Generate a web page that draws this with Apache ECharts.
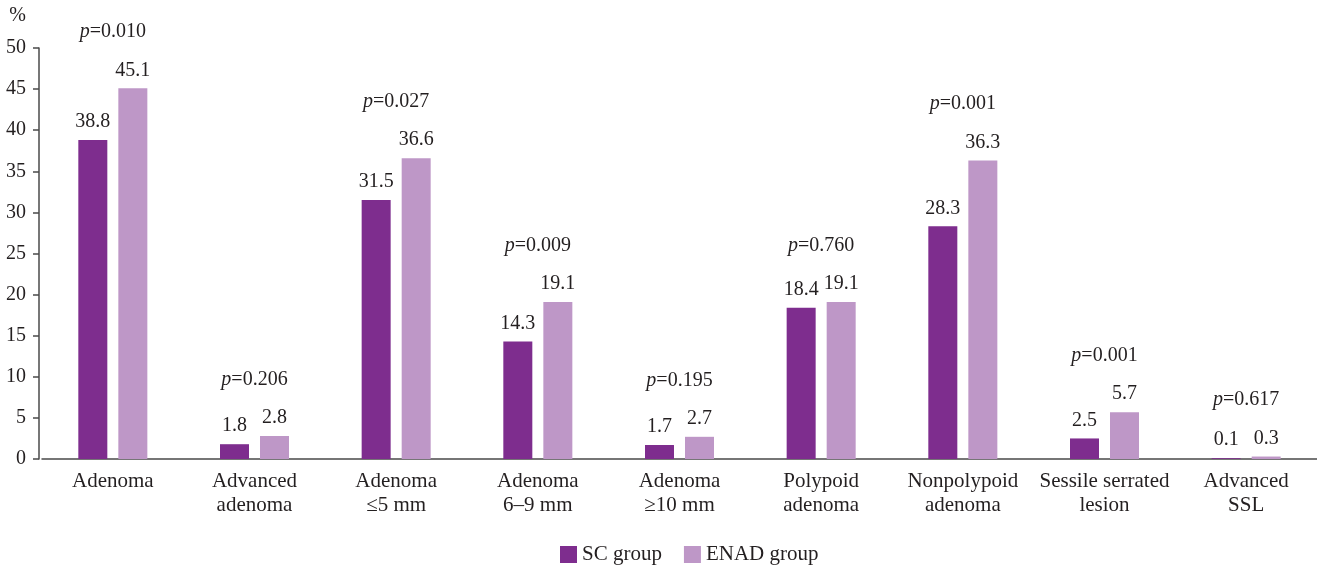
<!DOCTYPE html>
<html><head><meta charset="utf-8">
<script src="https://cdn.jsdelivr.net/npm/echarts@6/dist/echarts.min.js"></script>
<style>html,body{margin:0;padding:0;background:#fff}#c{width:1317px;height:570px}</style>
</head><body><div id="c"></div>
<script>
var categories = ['Adenoma', 'Advanced\nadenoma', 'Adenoma\n≤5 mm', 'Adenoma\n6–9 mm', 'Adenoma\n≥10 mm', 'Polypoid\nadenoma', 'Nonpolypoid\nadenoma', 'Sessile serrated\nlesion', 'Advanced\nSSL'];
var scGroup = [38.8, 1.8, 31.5, 14.3, 1.7, 18.4, 28.3, 2.5, 0.1];
var enadGroup = [45.1, 2.8, 36.6, 19.1, 2.7, 19.1, 36.3, 5.7, 0.3];
var pValues = ['0.010', '0.206', '0.027', '0.009', '0.195', '0.760', '0.001', '0.001', '0.617'];
var yTicks = [0, 5, 10, 15, 20, 25, 30, 35, 40, 45, 50];

var FONT = '"Liberation Serif", "DejaVu Serif", serif';
var TXT = '#231F20';
var pAnchor = scGroup.map(function (v, i) { return Math.max(v, enadGroup[i]); });

var chart = echarts.init(document.getElementById('c'));
chart.setOption({
  animation: false,
  textStyle: { fontFamily: FONT, color: TXT },
  grid: { left: 42, right: 0, top: 48, bottom: 111, containLabel: false },
  legend: {
    left: 555, top: 539, itemWidth: 17, itemHeight: 17, itemGap: 22,
    icon: 'rect',
    textStyle: { fontFamily: FONT, fontSize: 21, color: TXT, padding: [0, 0, 0, 0] },
    data: ['SC group', 'ENAD group']
  },
  xAxis: {
    type: 'category', data: categories,
    axisLine: { lineStyle: { color: '#4a4a4a', width: 1.5 } },
    axisTick: { show: false },
    axisLabel: { fontFamily: FONT, fontSize: 21, color: TXT, lineHeight: 24, margin: 10, interval: 0 }
  },
  yAxis: {
    type: 'value', min: 0, max: 50, interval: 5, offset: 3,
    name: '%', nameLocation: 'end', nameGap: 22,
    nameTextStyle: { fontFamily: FONT, fontSize: 20, color: TXT, align: 'right', padding: [0, 13, 0, 0] },
    axisLine: { show: true, lineStyle: { color: '#4a4a4a', width: 1.5 } },
    axisTick: { show: true, length: 6, lineStyle: { color: '#4a4a4a', width: 1.5 } },
    splitLine: { show: false },
    axisLabel: { fontFamily: FONT, fontSize: 20, color: TXT, margin: 13 }
  },
  series: [
    {
      name: 'SC group', type: 'bar', data: scGroup, barWidth: 29, barGap: '38%',
      itemStyle: { color: '#7E2D8E' },
      label: { show: true, position: 'top', distance: 8, fontFamily: FONT, fontSize: 20, color: TXT }
    },
    {
      name: 'ENAD group', type: 'bar', data: enadGroup, barWidth: 29,
      itemStyle: { color: '#BE97C7' },
      label: { show: true, position: 'top', distance: 8, fontFamily: FONT, fontSize: 20, color: TXT }
    },
    {
      name: 'p', type: 'scatter', data: pAnchor, symbolSize: 1, silent: true,
      itemStyle: { color: 'rgba(0,0,0,0)', opacity: 1 },
      label: {
        show: true, position: 'top', distance: 46, color: TXT, opacity: 1,
        fontFamily: FONT, fontSize: 20,
        formatter: function (p) { return '{i|p}{n|=' + pValues[p.dataIndex] + '}'; },
        rich: {
          i: { fontFamily: FONT, fontStyle: 'italic', fontSize: 20, color: TXT },
          n: { fontFamily: FONT, fontSize: 20, color: TXT }
        }
      }
    }
  ]
});
</script></body></html>
